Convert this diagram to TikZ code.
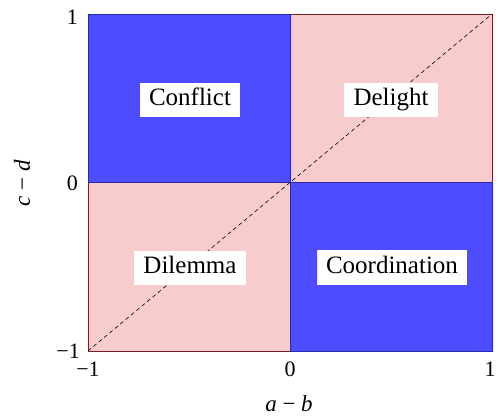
\documentclass[tikz,border=0pt]{standalone}
\usepackage{fontspec}
\setmainfont{Liberation Serif}
\newfontfamily\timesx{Liberation Serif}
\definecolor{qblue}{RGB}{77,77,255}
\definecolor{qpink}{RGB}{248,204,204}
\definecolor{qblueedge}{RGB}{40,40,170}
\definecolor{qpinkedge}{RGB}{120,30,40}
\begin{document}
\begin{tikzpicture}[x=1pt,y=1pt,
  bluequad/.style={fill=qblue,draw=qblueedge,line width=0.8pt},
  pinkquad/.style={fill=qpink,draw=qpinkedge,line width=0.8pt},
  region/.style={fill=white,inner xsep=9.5pt,inner ysep=6pt,text height=17pt,text depth=5.5pt,font=\timesx\fontsize{25}{27}\selectfont},
  ticklab/.style={font=\timesx\fontsize{22}{24}\selectfont,inner sep=0pt},
  axlab/.style={font=\timesx\fontsize{23}{25}\selectfont,inner sep=0pt}]
\useasboundingbox (0,0) rectangle (498,419);
\coordinate (bl) at (88,68);
\coordinate (tr) at (492,405);
\coordinate (c) at (290,236.5);
\draw[pinkquad] (88,68) rectangle (290,236.5);
\draw[pinkquad] (290,236.5) rectangle (492,405);
\draw[bluequad] (88,236.5) rectangle (290,405);
\draw[bluequad] (290,68) rectangle (492,236.5);
\draw[black,line width=0.6pt,dash pattern=on 4pt off 3pt] (bl) -- (tr);
\node[region] (conflict) at (190,319) {Conflict};
\node[region] (delight) at (391,319) {Delight};
\node[region] (dilemma) at (190,151) {Dilemma};
\node[region] (coord) at (392,151.5) {Coordination};
\node[ticklab,anchor=east] (y1) at (78,402) {1};
\node[ticklab,anchor=east] (y0) at (78,236) {0};
\node[ticklab,anchor=east] (ym1) at (80,68) {−1};
\node[ticklab] (xm1) at (88,50) {−1};
\node[ticklab] (x0) at (290,50) {0};
\node[ticklab] (x1) at (490,50) {1};
\node[axlab] (xl) at (289,15) {\textit{a} − \textit{b}};
\node[axlab,rotate=90] (yl) at (22,236) {\textit{c} − \textit{d}};
\end{tikzpicture}
\end{document}
